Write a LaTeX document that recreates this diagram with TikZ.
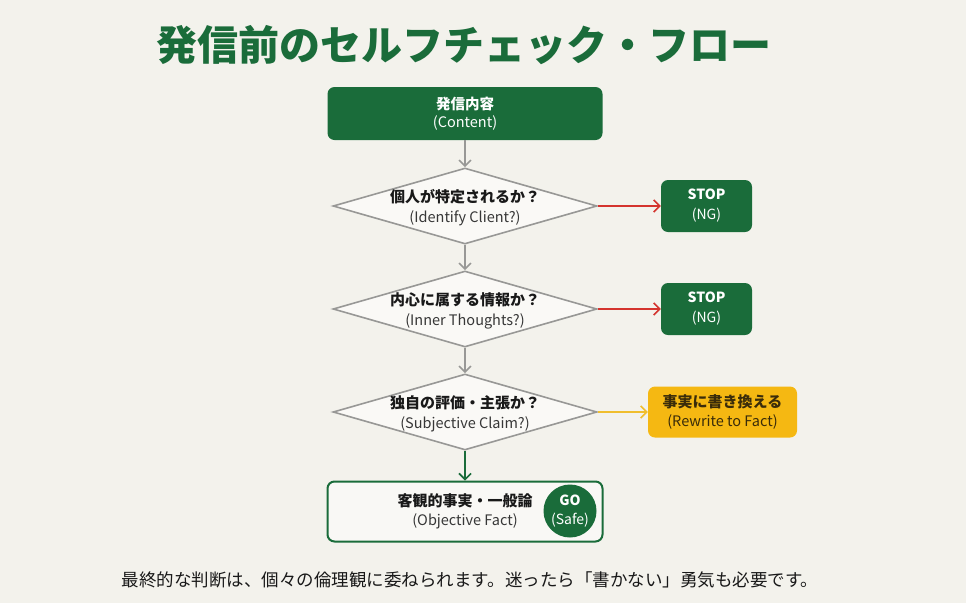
\documentclass[tikz,border=0pt]{standalone}
\usepackage{fontspec}
\setmainfont{Noto Sans CJK JP}
\usetikzlibrary{arrows.meta,positioning,shapes.geometric}

\definecolor{Paper}{RGB}{243,242,236}
\definecolor{MainGreen}{RGB}{26,108,58}
\definecolor{FlowGray}{RGB}{152,152,150}
\definecolor{AlertRed}{RGB}{212,52,46}
\definecolor{WarnYellow}{RGB}{240,190,45}
\definecolor{WarnFill}{RGB}{245,184,18}
\definecolor{WarnText}{RGB}{58,44,10}
\definecolor{TextDark}{RGB}{25,25,25}
\definecolor{TextGray}{RGB}{55,55,55}

\begin{document}
\begin{tikzpicture}
  [x=1pt, y=-1pt,
   box/.style={rounded corners=7pt, inner sep=0pt, align=center},
   green box/.style={box, fill=MainGreen, text=white},
   stop box/.style={green box, minimum width=91pt, minimum height=52pt,
                    font=\fontsize{14}{20}\selectfont},
   question/.style={diamond, draw=FlowGray, line width=1.6pt, fill=white!55!Paper,
                    minimum width=264pt, minimum height=76pt, inner sep=0pt},
   question text/.style={align=center, inner sep=0pt, text=TextDark,
                         font=\fontsize{15}{20}\selectfont},
   flow/.style={draw=FlowGray, line width=1.6pt,
                -{Straight Barb[length=6pt,width=12pt]}}]

  \fill [Paper] (0,0) rectangle (966,603);

  \node [text=MainGreen, font=\fontsize{41}{48}\selectfont\bfseries] (title)
    at (464,45) {発信前のセルフチェック・フロー};

  \node [green box, minimum width=275pt, minimum height=53pt,
         font=\fontsize{14.5}{18}\selectfont] (content) at (465,113.5)
    {{\bfseries 発信内容}\\(Content)};

  % decisions
  \node [question] (q1) at (465,206) {};
  \node [question text] (q1-t) at (465,208)
    {{\bfseries 個人が特定されるか？}\\{\fontsize{14.5}{20}\selectfont\color{TextGray}(Identify Client?)}};
  \node [question] (q2) at (465,309) {};
  \node [question text] (q2-t) at (465,311)
    {{\bfseries 内心に属する情報か？}\\{\fontsize{14.5}{20}\selectfont\color{TextGray}(Inner Thoughts?)}};
  \node [question] (q3) at (465,412) {};
  \node [question text] (q3-t) at (465,414)
    {{\bfseries 独自の評価・主張か？}\\{\fontsize{14.5}{20}\selectfont\color{TextGray}(Subjective Claim?)}};

  % outcomes
  \node [stop box] (stop1) at (706.5,206) {{\bfseries STOP}\\(NG)};
  \node [stop box] (stop2) at (706.5,309) {{\bfseries STOP}\\(NG)};
  \node [box, fill=WarnFill, text=WarnText, minimum width=149pt, minimum height=51pt,
         font=\fontsize{15}{19}\selectfont] (rewrite) at (722.5,412)
    {{\bfseries 事実に書き換える}\\{\fontsize{14.5}{19}\selectfont(Rewrite to Fact)}};

  \node [box, draw=MainGreen, line width=2pt, fill=white!50!Paper,
         minimum width=275pt, minimum height=60pt, text=TextDark,
         font=\fontsize{15}{19}\selectfont] (fact) at (465,511.5)
    {{\bfseries 客観的事実・一般論}\\{\fontsize{14.5}{19}\selectfont\color{TextGray}(Objective Fact)}};
  \node [circle, fill=MainGreen, text=white, minimum size=53pt, inner sep=0pt,
         align=center, font=\fontsize{14}{19}\selectfont] (go) at (570,511)
    {{\bfseries GO}\\(Safe)};

  \path (content) edge [flow] (q1);
  \path (q1) edge [flow] (q2);
  \path (q2) edge [flow] (q3);
  \path (q3) edge [flow, draw=MainGreen] (fact);
  \path (q1) edge [flow, draw=AlertRed] (stop1);
  \path (q2) edge [flow, draw=AlertRed] (stop2);
  \path (q3) edge [flow, draw=WarnYellow] (rewrite);

  \node [text=TextDark, font=\fontsize{17.5}{20}\selectfont] (note) at (470,580)
    {最終的な判断は、個々の倫理観に委ねられます。迷ったら「書かない」勇気も必要です。};
\end{tikzpicture}
\end{document}
